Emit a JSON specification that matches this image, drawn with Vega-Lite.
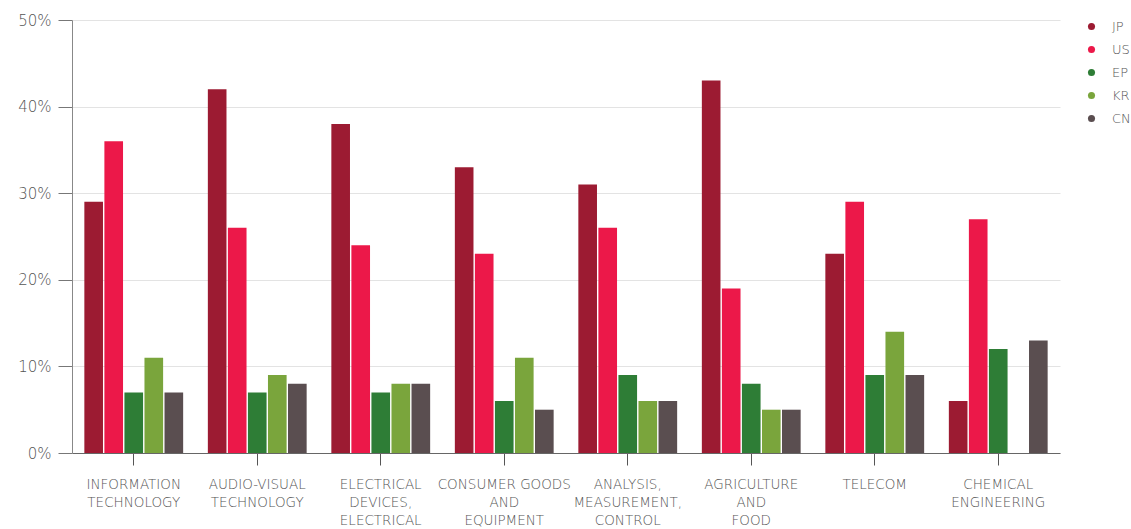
{
  "$schema": "https://vega.github.io/schema/vega-lite/v6.json",
  "width": 988,
  "height": 433,
  "autosize": {"type": "none"},
  "padding": {"left": 72, "top": 20, "right": 71, "bottom": 76},
  "background": "white",
  "config": {"view": {"stroke": null}, "font": "DejaVu Sans"},
  "data": {"values": [
    {"field": "INFORMATION|TECHNOLOGY", "office": "JP", "share": 0.29},
    {"field": "INFORMATION|TECHNOLOGY", "office": "US", "share": 0.36},
    {"field": "INFORMATION|TECHNOLOGY", "office": "EP", "share": 0.07},
    {"field": "INFORMATION|TECHNOLOGY", "office": "KR", "share": 0.11},
    {"field": "INFORMATION|TECHNOLOGY", "office": "CN", "share": 0.07},
    {"field": "AUDIO-VISUAL|TECHNOLOGY", "office": "JP", "share": 0.42},
    {"field": "AUDIO-VISUAL|TECHNOLOGY", "office": "US", "share": 0.26},
    {"field": "AUDIO-VISUAL|TECHNOLOGY", "office": "EP", "share": 0.07},
    {"field": "AUDIO-VISUAL|TECHNOLOGY", "office": "KR", "share": 0.09},
    {"field": "AUDIO-VISUAL|TECHNOLOGY", "office": "CN", "share": 0.08},
    {"field": "ELECTRICAL|DEVICES,|ELECTRICAL", "office": "JP", "share": 0.38},
    {"field": "ELECTRICAL|DEVICES,|ELECTRICAL", "office": "US", "share": 0.24},
    {"field": "ELECTRICAL|DEVICES,|ELECTRICAL", "office": "EP", "share": 0.07},
    {"field": "ELECTRICAL|DEVICES,|ELECTRICAL", "office": "KR", "share": 0.08},
    {"field": "ELECTRICAL|DEVICES,|ELECTRICAL", "office": "CN", "share": 0.08},
    {"field": "CONSUMER GOODS|AND|EQUIPMENT", "office": "JP", "share": 0.33},
    {"field": "CONSUMER GOODS|AND|EQUIPMENT", "office": "US", "share": 0.23},
    {"field": "CONSUMER GOODS|AND|EQUIPMENT", "office": "EP", "share": 0.06},
    {"field": "CONSUMER GOODS|AND|EQUIPMENT", "office": "KR", "share": 0.11},
    {"field": "CONSUMER GOODS|AND|EQUIPMENT", "office": "CN", "share": 0.05},
    {"field": "ANALYSIS,|MEASUREMENT,|CONTROL", "office": "JP", "share": 0.31},
    {"field": "ANALYSIS,|MEASUREMENT,|CONTROL", "office": "US", "share": 0.26},
    {"field": "ANALYSIS,|MEASUREMENT,|CONTROL", "office": "EP", "share": 0.09},
    {"field": "ANALYSIS,|MEASUREMENT,|CONTROL", "office": "KR", "share": 0.06},
    {"field": "ANALYSIS,|MEASUREMENT,|CONTROL", "office": "CN", "share": 0.06},
    {"field": "AGRICULTURE|AND|FOOD", "office": "JP", "share": 0.43},
    {"field": "AGRICULTURE|AND|FOOD", "office": "US", "share": 0.19},
    {"field": "AGRICULTURE|AND|FOOD", "office": "EP", "share": 0.08},
    {"field": "AGRICULTURE|AND|FOOD", "office": "KR", "share": 0.05},
    {"field": "AGRICULTURE|AND|FOOD", "office": "CN", "share": 0.05},
    {"field": "TELECOM", "office": "JP", "share": 0.23},
    {"field": "TELECOM", "office": "US", "share": 0.29},
    {"field": "TELECOM", "office": "EP", "share": 0.09},
    {"field": "TELECOM", "office": "KR", "share": 0.14},
    {"field": "TELECOM", "office": "CN", "share": 0.09},
    {"field": "CHEMICAL|ENGINEERING", "office": "JP", "share": 0.06},
    {"field": "CHEMICAL|ENGINEERING", "office": "US", "share": 0.27},
    {"field": "CHEMICAL|ENGINEERING", "office": "EP", "share": 0.12},
    {"field": "CHEMICAL|ENGINEERING", "office": "CN", "share": 0.13}
  ]},
  "mark": {"type": "bar"},
  "encoding": {
    "x": {
      "field": "field", "type": "nominal", "sort": null,
      "scale": {"paddingInner": 0.2, "paddingOuter": 0.1},
      "axis": {
        "title": null, "labelAngle": 0, "labelExpr": "split(datum.label, '|')",
        "labelFontSize": 13.5, "labelFontWeight": 200, "labelColor": "#555", "labelLineHeight": 18,
        "labelPadding": 12, "tickSize": 12, "tickColor": "#555", "domainColor": "#666",
        "labelBaseline": "top"
      }
    },
    "xOffset": {
      "field": "office", "type": "nominal",
      "sort": ["JP", "US", "EP", "KR", "CN"],
      "scale": {"paddingInner": 0.07, "domain": ["JP", "US", "EP", "KR", "CN"]}
    },
    "y": {
      "field": "share", "type": "quantitative",
      "scale": {"domain": [0, 0.5], "nice": false},
      "axis": {
        "title": null, "format": ".0%", "values": [0, 0.1, 0.2, 0.3, 0.4, 0.5],
        "labelFontSize": 15, "labelFontWeight": 200, "labelColor": "#555", "tickSize": 14, "tickColor": "#777",
        "domainColor": "#888", "gridColor": "#e3e3e3", "labelPadding": 7
      }
    },
    "color": {
      "field": "office", "type": "nominal",
      "scale": {"domain": ["JP", "US", "EP", "KR", "CN"], "range": ["#9c1b32", "#ec1849", "#2e7d36", "#7aa53c", "#5a4e50"]},
      "legend": {
        "title": null, "orient": "none", "legendX": 1013, "legendY": 0,
        "symbolType": "circle", "symbolSize": 50, "labelFontSize": 13, "labelFontWeight": 200, "labelColor": "#555",
        "rowPadding": 9, "labelOffset": 14
      }
    }
  }
}
